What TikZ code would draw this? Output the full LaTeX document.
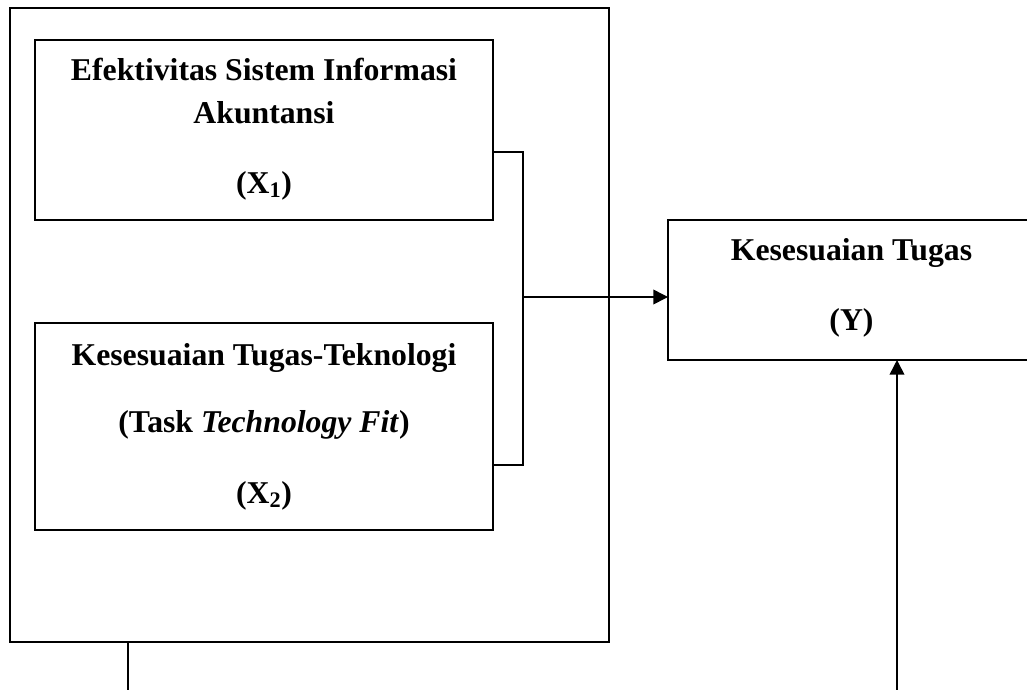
\documentclass[tikz,border=0pt]{standalone}
\usepackage{fontspec}
\setmainfont{Liberation Serif}
\usetikzlibrary{arrows.meta}
\tikzset{
  box/.style={draw, line width=1.2pt, rectangle, inner sep=0pt, outer sep=0pt},
  lbl/.style={anchor=base, inner sep=0pt, font=\fontsize{23.8pt}{28pt}\selectfont\bfseries},
  conn/.style={line width=1.2pt},
  arr/.style={line width=1.2pt, -{Triangle[length=11pt,width=11pt]}}
}
\begin{document}
\begin{tikzpicture}[x=0.75pt,y=-0.75pt]
\useasboundingbox (0,0) rectangle (1027,689);
% boxes
\node[box, minimum width=449.25pt, minimum height=475.5pt] (outer) at (309.5,325) {};
\node[box, minimum width=343.5pt, minimum height=135pt] (x1) at (264,130) {};
\node[box, minimum width=343.5pt, minimum height=155.25pt] (x2) at (264,426.5) {};
\node[box, minimum width=276pt, minimum height=105pt] (yb) at (852,290) {};
% texts
\node[lbl] (t11) at (264,80) {Efektivitas Sistem Informasi};
\node[lbl] (t12) at (264,123) {Akuntansi};
\node[lbl] (t13) at (264,193) {(X\textsubscript{1})};
\node[lbl] (t21) at (264,365) {Kesesuaian Tugas-Teknologi};
\node[lbl] (t22) at (264,432) {(Task \textit{Technology Fit})};
\node[lbl] (t23) at (264,503) {(X\textsubscript{2})};
\node[lbl] (ty1) at (851.5,260) {Kesesuaian Tugas};
\node[lbl] (ty2) at (851.5,330) {(Y)};
% connectors
\coordinate (b1) at (523,152);
\coordinate (b2) at (523,465);
\coordinate (m) at (523,297);
\draw[conn] (b1 -| x1.east) -- (b1) -- (b2) -- (b2 -| x2.east);
\draw[arr] (m) -- (m -| yb.west);
\coordinate (l1) at (128,690);
\draw[conn] (l1 |- outer.south) -- (l1);
\coordinate (r1) at (897,690);
\draw[arr] (r1) -- (r1 |- yb.south);
\end{tikzpicture}
\end{document}
